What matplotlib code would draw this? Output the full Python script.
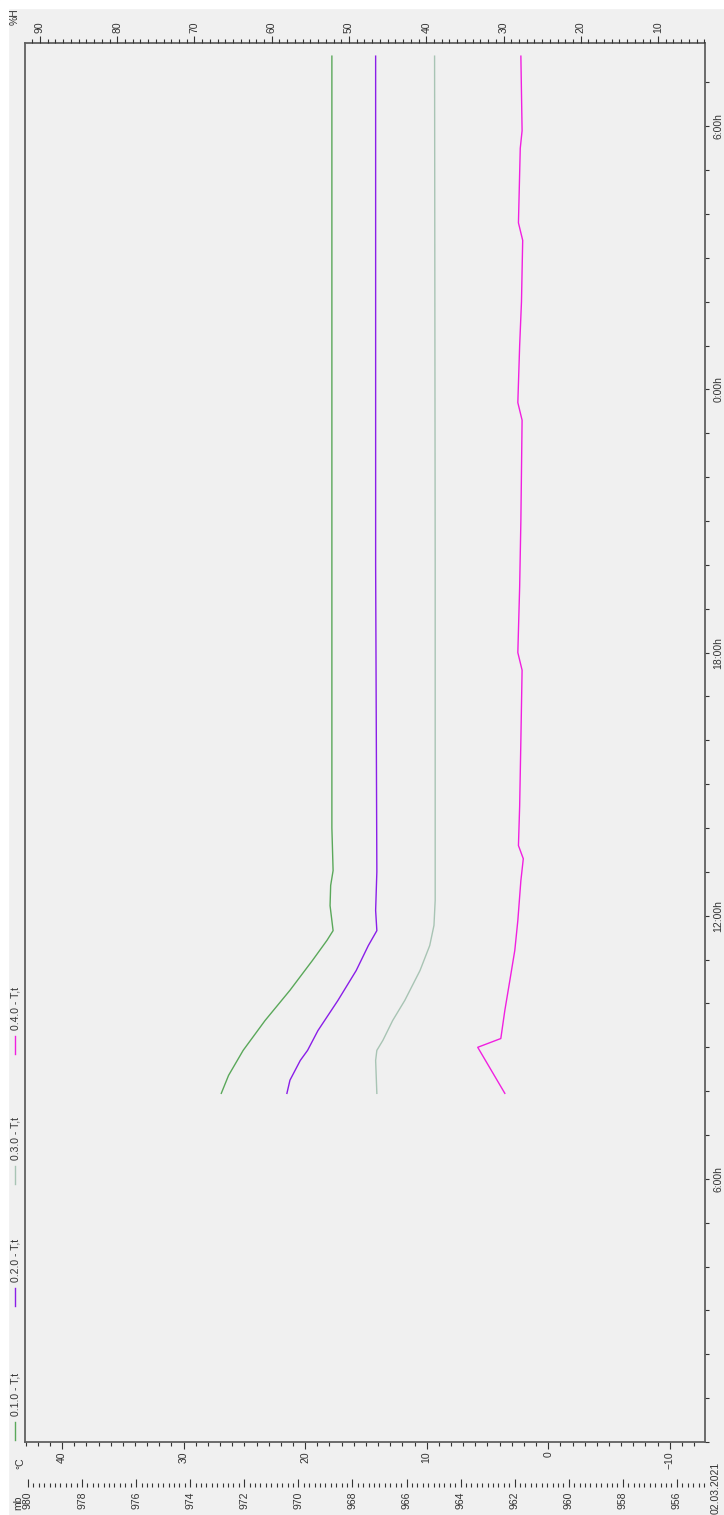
import matplotlib
matplotlib.use('Agg')
import matplotlib.pyplot as plt
from matplotlib.patches import Rectangle
from matplotlib.lines import Line2D
import numpy as np

plt.rcParams['font.family'] = ['Liberation Sans', 'DejaVu Sans']

# hours since 02.03.2021 0:00, temperatures in degC
t_1 = [7.95, 8.36, 8.93, 9.61, 10.30, 10.98, 11.44, 11.66, 12.23, 12.69, 13.03, 14.0, 20.0, 26.0, 31.6]
T_1 = [26.9, 26.3, 25.1, 23.3, 21.25, 19.4, 18.2, 17.7, 17.95, 17.9, 17.7, 17.8, 17.8, 17.8, 17.8]

t_2 = [7.95, 8.25, 8.70, 8.93, 9.38, 10.07, 10.75, 11.32, 11.66, 12.12, 13.0, 20.0, 31.6]
T_2 = [21.5, 21.25, 20.4, 19.8, 18.95, 17.3, 15.8, 14.8, 14.1, 14.2, 14.1, 14.2, 14.2]

t_3 = [7.95, 8.70, 8.93, 9.16, 9.61, 10.07, 10.75, 11.32, 11.78, 12.35, 20.0, 31.6]
T_3 = [14.1, 14.2, 14.1, 13.6, 12.8, 11.8, 10.55, 9.75, 9.4, 9.3, 9.3, 9.35]

t_4 = [7.95, 9.0, 9.2, 9.84, 10.52, 11.21, 11.89, 12.8, 13.3, 13.6, 14.5, 16.0, 17.6, 18.0, 19.5, 21.0,
       23.3, 23.7, 25.0, 26.0, 27.4, 27.8, 29.5, 29.9, 31.6]
T_4 = [3.57, 5.8, 3.9, 3.57, 3.16, 2.75, 2.5, 2.25, 2.05, 2.45, 2.35, 2.25, 2.15, 2.5, 2.35, 2.25,
       2.15, 2.5, 2.35, 2.2, 2.1, 2.45, 2.3, 2.15, 2.25]

names = ['0.1.0 - T,t', '0.2.0 - T,t', '0.3.0 - T,t', '0.4.0 - T,t']
colors = ['#5aa85a', '#8a1ee8', '#a8c4b4', '#f020e0']

hour_ticks = [0, 6, 12, 18, 24, 30]
hour_labels = ['', '6:00h', '12:00h', '18:00h', '0:00h', '6:00h']

W, H = 724, 1515
fig = plt.figure(figsize=(W / 100, H / 100), dpi=100, facecolor='#f0f0f0')
fig.patches.append(Rectangle((0, 0), 8 / W, 1, transform=fig.transFigure, color='white', zorder=0))
fig.patches.append(Rectangle((0, 1 - 8 / H), 1, 8 / H, transform=fig.transFigure, color='white', zorder=0))

x0, x1 = 25, 705
ytop, ybot = 43, 1442
ax = fig.add_axes([x0 / W, 1 - ybot / H, (x1 - x0) / W, (ybot - ytop) / H])
ax.set_facecolor('#f0f0f0')
for s in ax.spines.values():
    s.set_color('#606060')
    s.set_linewidth(1.3)

for t, T, c in zip([t_1, t_2, t_3, t_4], [T_1, T_2, T_3, T_4], colors):
    ax.plot(T, t, color=c, lw=1)

ax.set_xlim(43.05, -12.9)
ax.set_ylim(0, 31.9)

# degC axis (bottom)
ax.set_xticks([40, 30, 20, 10, 0, -10])
ax.set_xticks(np.arange(-12, 44, 1), minor=True)
ax.tick_params(axis='x', which='major', direction='out', length=5, width=0.8, pad=2,
               labelsize=7.5, labelrotation=90, color='#333333', labelcolor='#333333')
ax.tick_params(axis='x', which='minor', direction='out', length=3, width=0.8, color='#333333')

# time axis (right)
ax.yaxis.tick_right()
ax.set_yticks(hour_ticks)
ax.set_yticklabels(hour_labels)
ax.set_yticks(np.arange(0, 32, 1), minor=True)
ax.tick_params(axis='y', which='both', direction='out', length=3, width=0.8, pad=3,
               labelsize=7.5, color='#333333', labelcolor='#333333')
for lab in ax.get_yticklabels():
    lab.set_rotation(90)
    lab.set_va('center')
fig.text(716 / W, 1 - 1488 / H, '02.03.2021', rotation=90, ha='center', va='center',
         fontsize=7.5, color='#333333')

# %H axis (top)
axh = ax.twiny()
axh.set_xlim(91.94, 3.92)
axh.set_xticks([90, 80, 70, 60, 50, 40, 30, 20, 10])
axh.set_xticks(np.arange(4, 92, 1), minor=True)
axh.tick_params(axis='x', which='major', direction='out', length=5, width=0.8, pad=2,
                labelsize=7.5, labelrotation=90, color='#333333', labelcolor='#333333')
axh.tick_params(axis='x', which='minor', direction='out', length=3, width=0.8, color='#333333')
for s in axh.spines.values():
    s.set_visible(False)

# mb axis (separate scale below)
axm = fig.add_axes([x0 / W, 1 - 1487 / H, (x1 - x0) / W, 0.0001])
axm.set_facecolor('none')
for s in axm.spines.values():
    s.set_visible(False)
axm.set_yticks([])
axm.set_xlim(980.11, 954.96)
axm.set_xticks(np.arange(980, 955, -2))
axm.set_xticks(np.arange(955, 980.1, 0.2), minor=True)
axm.tick_params(axis='x', which='major', direction='in', length=6, width=0.8, pad=3,
                labelsize=7.5, labelrotation=90, color='#333333', labelcolor='#333333')
axm.tick_params(axis='x', which='minor', direction='in', length=3, width=0.8, color='#333333')

# unit labels
fig.text(20 / W, 1 - 1463 / H, '°C', rotation=90, ha='center', va='center', fontsize=7.5, color='#333333')
fig.text(18 / W, 1 - 1503 / H, 'mb', rotation=90, ha='center', va='center', fontsize=7.5, color='#333333')
fig.text(15 / W, 1 - 17 / H, '%H', rotation=90, ha='center', va='center', fontsize=7.5, color='#333333')

# legend (rotated, along left edge)
leg_y = [1431, 1297, 1175, 1045]
for yy, name, c in zip(leg_y, names, colors):
    fig.add_artist(Line2D([15 / W, 15 / W], [1 - (yy + 9) / H, 1 - (yy - 9) / H],
                          transform=fig.transFigure, color=c, lw=1))
    fig.text(15 / W, 1 - (yy - 15) / H, name, rotation=90, ha='center', va='bottom',
             fontsize=7.5, color='#333333')

fig.savefig('out.png', dpi=100, facecolor=fig.get_facecolor())
